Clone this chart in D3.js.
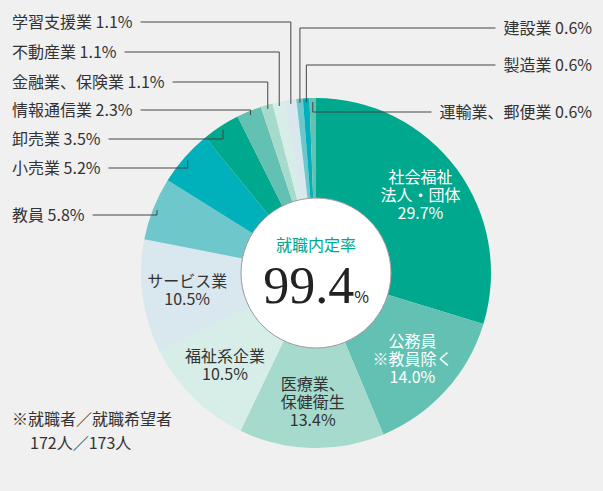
<!DOCTYPE html>
<html><head><meta charset="utf-8">
<script src="https://cdn.jsdelivr.net/npm/d3@7"></script>
<style>body{margin:0;background:#f0f0f0}text{font-family:"Noto Sans CJK JP",sans-serif}</style>
</head><body><svg id="c" width="603" height="491"></svg>
<script>
const labels = ["社会福祉法人・団体","公務員※教員除く","医療業、保健衛生","福祉系企業","サービス業","教員","小売業","卸売業","情報通信業","金融業、保険業","不動産業","学習支援業","建設業","製造業","運輸業、郵便業"];
const values = [29.7,14.0,13.4,10.5,10.5,5.8,5.2,3.5,2.3,1.1,1.1,1.1,0.6,0.6,0.6];
const colors = ["#00a88e","#62c1b2","#a5dacd","#d6eee7","#d9e7ef","#6dc7cb","#00b0bb","#00a88e","#62c1b2","#a5dacd","#d6eee7","#d9e7ef","#6dc7cb","#00b0bb","#62c1b2"];
const inLabels = {0:["社会福祉","法人・団体","29.7%"],1:["公務員","※教員除く","14.0%"],2:["医療業、","保健衛生","13.4%"],3:["福祉系企業","10.5%"],4:["サービス業","10.5%"]};
const leftLabels = {5:["教員  5.8%",12,215],6:["小売業  5.2%",12,168],7:["卸売業  3.5%",12,139],8:["情報通信業  2.3%",12,110],9:["金融業、保険業  1.1%",12,82],10:["不動産業  1.1%",12,52],11:["学習支援業  1.1%",12,22]};
const rightLabels = {12:["建設業  0.6%",28],13:["製造業  0.6%",65],14:["運輸業、郵便業  0.6%",112]};

const cx=316, cy=273, R=175, r0=75, fs=16;
const svg=d3.select("#c");
const g=svg.append("g").attr("transform",`translate(${cx},${cy})`);
const pie=d3.pie().sort(null).value(d=>d)(values);
const arc=d3.arc().innerRadius(r0).outerRadius(R);
g.selectAll("path").data(pie).join("path").attr("d",arc).attr("fill",(d,i)=>colors[i]);
g.append("circle").attr("r",r0).attr("fill","#fff").attr("stroke","#999").attr("stroke-width",1);
pie.forEach((d,i)=>{
  if(!inLabels[i]) return;
  const c=d3.arc().innerRadius(120).outerRadius(140).centroid(d);
  const ls=inLabels[i];
  const t=g.append("text").attr("text-anchor","middle").attr("font-size",fs).attr("fill",i>=2?"#333":"#fff");
  ls.forEach((s,k)=>t.append("tspan").attr("x",c[0]).attr("y",c[1]+(k-(ls.length-1)/2)*18+5).text(s));
});
const lineC="#444";
pie.forEach((d,i)=>{
  const a=(d.startAngle+d.endAngle)/2;
  const px=cx+Math.sin(a)*(R-4), py=cy-Math.cos(a)*(R-4);
  if(leftLabels[i]){
    const [s,x,y]=leftLabels[i];
    const t=svg.append("text").attr("x",x).attr("y",y+6).attr("font-size",fs).attr("fill","#333").text(s);
    const w=t.node().getComputedTextLength();
    svg.append("polyline").attr("fill","none").attr("stroke",lineC).attr("stroke-width",1)
      .attr("points",`${x+w+8},${y} ${px},${y} ${px},${py}`);
  }
  if(rightLabels[i]){
    const [s,y]=rightLabels[i];
    const t=svg.append("text").attr("x",592).attr("y",y+6).attr("text-anchor","end").attr("font-size",fs).attr("fill","#333").text(s);
    const w=t.node().getComputedTextLength();
    svg.append("polyline").attr("fill","none").attr("stroke",lineC).attr("stroke-width",1)
      .attr("points",`${px},${py} ${px},${y} ${592-w-8},${y}`);
  }
});
g.append("text").attr("text-anchor","middle").attr("y",-22).attr("font-size",fs).attr("fill","#00a88e").text("就職内定率");
const big=g.append("text").attr("text-anchor","middle").attr("y",30).attr("fill","#222");
big.append("tspan").attr("font-family","Liberation Serif,serif").attr("font-size",52).text("99.4");
big.append("tspan").attr("font-size",fs).text("%");
const note=svg.append("text").attr("font-size",fs).attr("fill","#333");
note.append("tspan").attr("x",12).attr("y",425).text("※就職者／就職希望者");
note.append("tspan").attr("x",30).attr("y",449).text("172人／173人");
</script></body></html>
